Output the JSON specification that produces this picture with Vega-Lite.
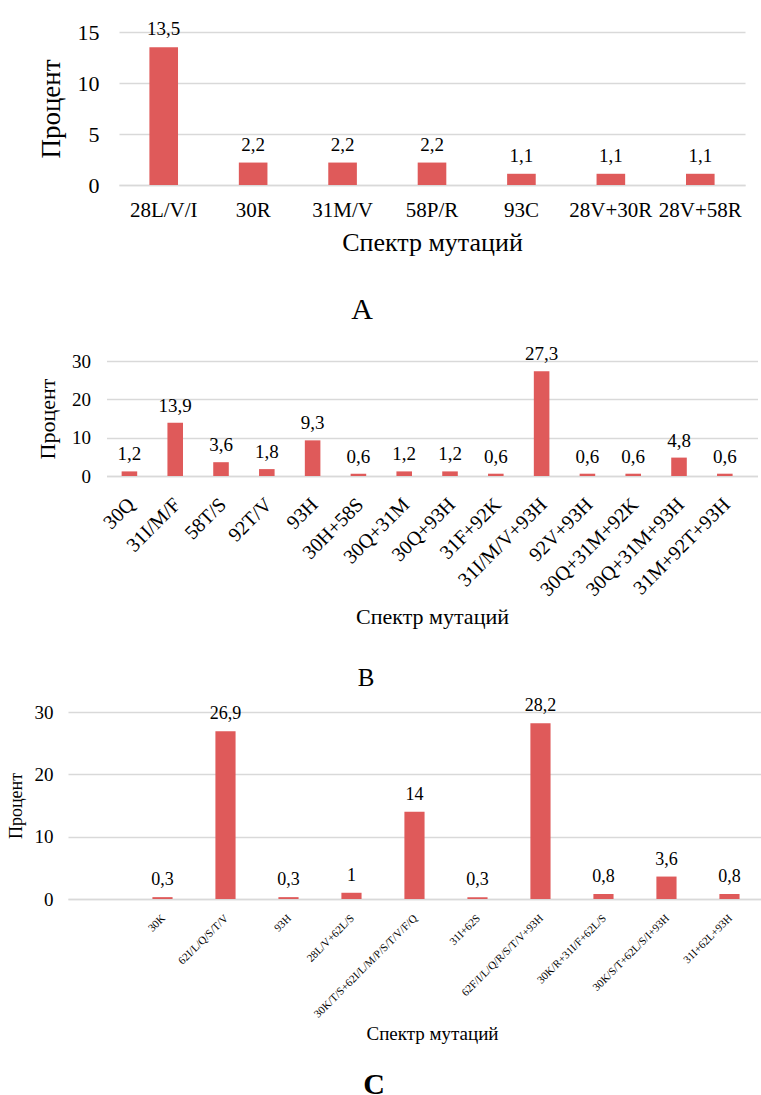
{
  "$schema": "https://vega.github.io/schema/vega-lite/v6.json",
  "background": "white",
  "padding": {"left": 7, "top": 20, "right": 0, "bottom": 0},
  "spacing": 6,
  "center": true,
  "config": {
    "font": "Liberation Serif",
    "locale": {"number": {"decimal": ",", "thousands": " ", "grouping": [3], "currency": ["", ""]}},
    "view": {"stroke": null},
    "axis": {"labelColor": "#000000", "titleColor": "#000000", "titleFontWeight": "normal", "gridColor": "#d9d9d9", "gridWidth": 1.5, "domainColor": "#d9d9d9", "domainWidth": 1.5, "ticks": false, "labelFont": "Liberation Serif", "titleFont": "Liberation Serif"},
    "bar": {"color": "#df5a5a"},
    "text": {"font": "Liberation Serif", "color": "#000000"},
    "title": {"font": "Liberation Serif", "fontWeight": "normal", "color": "#000000"}
  },
  "vconcat": [
    {
      "width": 626,
      "height": 153,
      "title": {"text": ["A", ""], "orient": "bottom", "fontSize": 30, "lineHeight": 14, "offset": 40, "dx": -70},
      "data": {"values": [
        {"mutation": "28L/V/I", "percent": 13.5},
        {"mutation": "30R", "percent": 2.2},
        {"mutation": "31M/V", "percent": 2.2},
        {"mutation": "58P/R", "percent": 2.2},
        {"mutation": "93C", "percent": 1.1},
        {"mutation": "28V+30R", "percent": 1.1},
        {"mutation": "28V+58R", "percent": 1.1}
      ]},
      "encoding": {
        "x": {"field": "mutation", "type": "nominal", "sort": null,
          "scale": {"paddingInner": 0.68, "paddingOuter": 0.34},
          "axis": {"labelAngle": 0, "labelFontSize": 21, "labelPadding": 14, "title": "Спектр мутаций", "titleFontSize": 26, "titlePadding": 9}},
        "y": {"field": "percent", "type": "quantitative", "scale": {"domain": [0, 15]},
          "axis": {"values": [0, 5, 10, 15], "grid": true, "domain": false, "labelFontSize": 22, "labelPadding": 20, "title": "Процент", "titleFontSize": 27, "titlePadding": 12}}
      },
      "layer": [
        {"mark": {"type": "bar"}},
        {"mark": {"type": "text", "baseline": "alphabetic", "dy": -12, "fontSize": 19},
          "encoding": {"text": {"field": "percent", "type": "quantitative", "format": ".1~f"}}}
      ]
    },
    {
      "width": 651,
      "height": 115,
      "title": {"text": "B", "orient": "bottom", "fontSize": 25, "offset": 38, "dx": -66},
      "data": {"values": [
        {"mutation": "30Q", "percent": 1.2},
        {"mutation": "31I/M/F", "percent": 13.9},
        {"mutation": "58T/S", "percent": 3.6},
        {"mutation": "92T/V", "percent": 1.8},
        {"mutation": "93H", "percent": 9.3},
        {"mutation": "30H+58S", "percent": 0.6},
        {"mutation": "30Q+31M", "percent": 1.2},
        {"mutation": "30Q+93H", "percent": 1.2},
        {"mutation": "31F+92K", "percent": 0.6},
        {"mutation": "31I/M/V+93H", "percent": 27.3},
        {"mutation": "92V+93H", "percent": 0.6},
        {"mutation": "30Q+31M+92K", "percent": 0.6},
        {"mutation": "30Q+31M+93H", "percent": 4.8},
        {"mutation": "31M+92T+93H", "percent": 0.6}
      ]},
      "encoding": {
        "x": {"field": "mutation", "type": "nominal", "sort": null,
          "scale": {"paddingInner": 0.66, "paddingOuter": 0.437, "align": 0.378},
          "axis": {"labelAngle": -45, "labelFontSize": 20, "labelPadding": 18, "labelOffset": -5, "labelLimit": 300, "title": "Спектр мутаций", "titleFontSize": 22, "titlePadding": 7}},
        "y": {"field": "percent", "type": "quantitative", "scale": {"domain": [0, 30]},
          "axis": {"values": [0, 10, 20, 30], "grid": true, "domain": false, "labelFontSize": 19, "labelPadding": 16, "title": "Процент", "titleFontSize": 22, "titlePadding": 12}}
      },
      "layer": [
        {"mark": {"type": "bar"}},
        {"mark": {"type": "text", "baseline": "alphabetic", "dy": -11, "fontSize": 19},
          "encoding": {"text": {"field": "percent", "type": "quantitative", "format": ".1~f"}}}
      ]
    },
    {
      "width": 728,
      "height": 187,
      "title": {"text": "C", "orient": "bottom", "fontSize": 30, "fontWeight": "bold", "offset": 27, "dx": -58},
      "data": {"values": [
        {"mutation": "30K", "percent": 0.3},
        {"mutation": "62I/L/Q/S/T/V", "percent": 26.9},
        {"mutation": "93H", "percent": 0.3},
        {"mutation": "28L/V+62L/S", "percent": 1},
        {"mutation": "30K/T/S+62I/L/M/P/S/T/V/F/Q", "percent": 14},
        {"mutation": "31I+62S", "percent": 0.3},
        {"mutation": "62F/I/L/Q/R/S/T/V+93H", "percent": 28.2},
        {"mutation": "30K/R+31I/F+62L/S", "percent": 0.8},
        {"mutation": "30K/S/T+62L/S/I+93H", "percent": 3.6},
        {"mutation": "31I+62L+93H", "percent": 0.8}
      ]},
      "encoding": {
        "x": {"field": "mutation", "type": "nominal",
          "scale": {"domain": ["", "30K", "62I/L/Q/S/T/V", "93H", "28L/V+62L/S", "30K/T/S+62I/L/M/P/S/T/V/F/Q", "31I+62S", "62F/I/L/Q/R/S/T/V+93H", "30K/R+31I/F+62L/S", "30K/S/T+62L/S/I+93H", "31I+62L+93H"], "paddingInner": 0.68, "paddingOuter": 0.618, "align": 0.275},
          "axis": {"labelAngle": -45, "labelFontSize": 11, "labelPadding": 13, "labelOffset": -3, "labelLimit": 300, "title": "Спектр мутаций", "titleFontSize": 19, "titlePadding": 5}},
        "y": {"field": "percent", "type": "quantitative", "scale": {"domain": [0, 30]},
          "axis": {"values": [0, 10, 20, 30], "grid": true, "domain": false, "labelFontSize": 19, "labelPadding": 15, "title": "Процент", "titleFontSize": 18, "titlePadding": 9}}
      },
      "layer": [
        {"mark": {"type": "bar"}},
        {"mark": {"type": "text", "baseline": "alphabetic", "dy": -12, "fontSize": 18},
          "encoding": {"text": {"field": "percent", "type": "quantitative", "format": ".1~f"}}}
      ]
    }
  ]
}
